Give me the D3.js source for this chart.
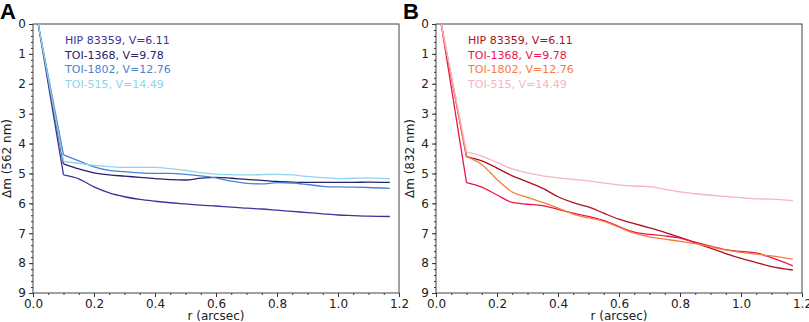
<!DOCTYPE html>
<meta charset="utf-8">
<script src="https://d3js.org/d3.v7.min.js"></script>
<style>
  body { margin: 0; background: #fff; }
  text { font-family: "DejaVu Sans", sans-serif; }
</style>
<div id="chart"></div>
<script>

// star names + V mags (legend order)
var stars = ["HIP 83359, V=6.11", "TOI-1368, V=9.78", "TOI-1802, V=12.76", "TOI-515, V=14.49"];

// separation grid, all curves start at the centre then jump to 0.1"
var r = [0.017, 0.1, 0.15, 0.2, 0.25, 0.3, 0.35, 0.4, 0.45, 0.5, 0.55, 0.6, 0.65, 0.7, 0.75, 0.8, 0.85, 0.9, 0.95, 1.0, 1.05, 1.1, 1.17];

// 562 nm contrast curves (delta mag)
var hip562  = [0, 5.05, 5.18, 5.45, 5.65, 5.78, 5.87, 5.93, 5.98, 6.02, 6.06, 6.09, 6.13, 6.16, 6.19, 6.23, 6.27, 6.31, 6.35, 6.39, 6.41, 6.43, 6.44];
var t1368_562 = [0, 4.68, 4.85, 4.98, 5.05, 5.09, 5.13, 5.17, 5.21, 5.22, 5.16, 5.13, 5.16, 5.2, 5.23, 5.27, 5.29, 5.3, 5.3, 5.3, 5.3, 5.29, 5.3];
var t1802_562 = [0, 4.38, 4.58, 4.78, 4.9, 4.94, 4.98, 5.0, 5.0, 5.03, 5.08, 5.15, 5.26, 5.33, 5.35, 5.31, 5.32, 5.37, 5.43, 5.45, 5.46, 5.47, 5.5];
var t515_562  = [0, 4.6, 4.66, 4.73, 4.77, 4.8, 4.8, 4.8, 4.84, 4.9, 4.97, 5.02, 5.04, 5.05, 5.04, 5.03, 5.05, 5.1, 5.14, 5.17, 5.16, 5.15, 5.18];

// 832 nm contrast curves
var hip832  = [0, 4.44, 4.58, 4.82, 5.08, 5.28, 5.5, 5.78, 5.98, 6.12, 6.33, 6.53, 6.68, 6.82, 6.97, 7.14, 7.32, 7.5, 7.68, 7.84, 7.98, 8.12, 8.23];
var t1368_832 = [0, 5.31, 5.46, 5.72, 5.97, 6.03, 6.08, 6.2, 6.33, 6.44, 6.57, 6.78, 6.96, 7.04, 7.09, 7.16, 7.3, 7.43, 7.55, 7.61, 7.66, 7.82, 8.09];
var t1802_832 = [0, 4.44, 4.7, 5.2, 5.62, 5.8, 5.97, 6.16, 6.36, 6.49, 6.6, 6.8, 7.0, 7.12, 7.2, 7.27, 7.35, 7.45, 7.56, 7.64, 7.7, 7.76, 7.87];
var t515_832  = [0, 4.29, 4.42, 4.63, 4.85, 4.98, 5.08, 5.15, 5.2, 5.25, 5.32, 5.38, 5.42, 5.44, 5.53, 5.62, 5.68, 5.73, 5.77, 5.81, 5.85, 5.86, 5.91];

var colorsA = ["#3c3599", "#26226e", "#4d82d2", "#8fd4e8"];
var colorsB = ["#a8141e", "#ea1550", "#f57d3a", "#f7b5c0"];

var panels = [
  {label: "A", nm: "562", left: 33, series: [hip562, t1368_562, t1802_562, t515_562], colors: colorsA},
  {label: "B", nm: "832", left: 436, series: [hip832, t1368_832, t1802_832, t515_832], colors: colorsB}
];

var W = 809, H = 322;
var mTop = 24, mBottom = 293, pw = 366;

var svg = d3.select("#chart").append("svg")
  .attr("width", W)
  .attr("height", H);

panels.forEach(function(p) {
  var x = d3.scaleLinear().domain([0, 1.2]).range([p.left, p.left + pw]);
  var y = d3.scaleLinear().domain([0, 9]).range([mTop, mBottom]);

  var g = svg.append("g");

  // minor ticks
  g.append("g")
    .attr("transform", "translate(0," + mBottom + ")")
    .call(d3.axisBottom(x).tickValues(d3.range(0, 1.2001, 0.05)).tickSize(2).tickFormat(""))
    .call(function(a) { a.select(".domain").remove(); a.selectAll("line").attr("stroke", "#333"); });
  g.append("g")
    .attr("transform", "translate(" + p.left + ",0)")
    .call(d3.axisLeft(y).tickValues(d3.range(0, 9.001, 0.2)).tickSize(2).tickFormat(""))
    .call(function(a) { a.select(".domain").remove(); a.selectAll("line").attr("stroke", "#333"); });

  // major ticks
  var xa = g.append("g")
    .attr("transform", "translate(0," + mBottom + ")")
    .call(d3.axisBottom(x).tickValues(d3.range(0, 1.2001, 0.2)).tickSize(4).tickPadding(2).tickFormat(d3.format(".1f")));
  xa.select(".domain").remove();
  xa.selectAll("text").attr("font-size", 12).attr("fill", "#222").style("font-family", "DejaVu Sans");
  xa.selectAll("line").attr("stroke", "#333");

  var ya = g.append("g")
    .attr("transform", "translate(" + p.left + ",0)")
    .call(d3.axisLeft(y).tickValues(d3.range(0, 10)).tickSize(4).tickPadding(3).tickFormat(d3.format("d")));
  ya.select(".domain").remove();
  ya.selectAll("text").attr("font-size", 12).attr("fill", "#222").style("font-family", "DejaVu Sans");
  ya.selectAll("line").attr("stroke", "#333");

  // frame
  g.append("rect")
    .attr("x", p.left)
    .attr("y", mTop)
    .attr("width", pw)
    .attr("height", mBottom - mTop)
    .attr("fill", "none")
    .attr("stroke", "#444")
    .attr("stroke-width", 1);

  // curves: straight drop to 0.1" then smooth
  var jump = d3.line().x(function(d) { return x(d[0]); }).y(function(d) { return y(d[1]); });
  var smooth = d3.line().x(function(d) { return x(d[0]); }).y(function(d) { return y(d[1]); }).curve(d3.curveMonotoneX);

  p.series.forEach(function(s, i) {
    var pts = r.map(function(v, k) { return [v, s[k]]; });
    g.append("path")
      .attr("d", jump(pts.slice(0, 2)))
      .attr("fill", "none")
      .attr("stroke", p.colors[i])
      .attr("stroke-width", 1.3);
    g.append("path")
      .attr("d", smooth(pts.slice(1)))
      .attr("fill", "none")
      .attr("stroke", p.colors[i])
      .attr("stroke-width", 1.3);
  });

  // legend text
  stars.forEach(function(s, i) {
    g.append("text")
      .attr("x", p.left + 32)
      .attr("y", 44 + i * 14.5)
      .attr("font-size", 11)
      .attr("fill", p.colors[i])
      .text(s);
  });

  // axis titles
  g.append("text")
    .attr("x", p.left + pw / 2)
    .attr("y", 320)
    .attr("text-anchor", "middle")
    .attr("font-size", 12)
    .attr("fill", "#222")
    .text("r (arcsec)");
  g.append("text")
    .attr("transform", "translate(" + (p.left - 22) + "," + ((mTop + mBottom) / 2) + ") rotate(-90)")
    .attr("text-anchor", "middle")
    .attr("font-size", 12)
    .attr("fill", "#222")
    .text("Δm (" + p.nm + " nm)");

  // panel letter
  g.append("text")
    .attr("x", p.left - 33)
    .attr("y", 19)
    .attr("font-size", 22)
    .attr("font-weight", "bold")
    .attr("fill", "#000")
    .style("font-family", "Liberation Sans, Arial, sans-serif")
    .text(p.label);
});

</script>
